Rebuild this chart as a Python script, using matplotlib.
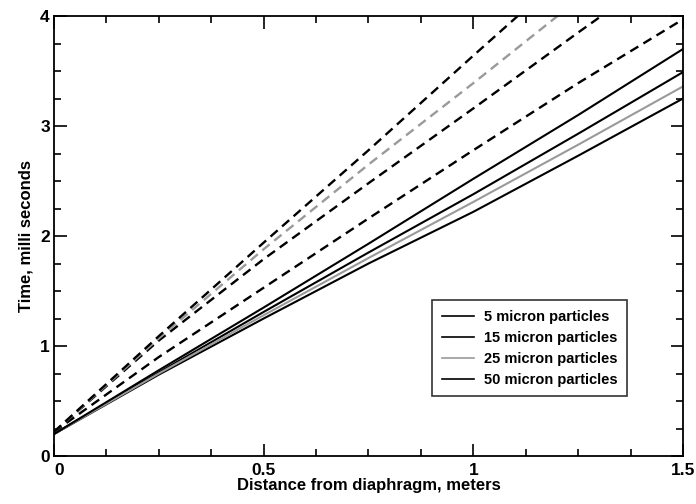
import numpy as np
import matplotlib.pyplot as plt
from matplotlib.ticker import MultipleLocator

plt.rcParams['font.family'] = ['Liberation Sans', 'DejaVu Sans']
plt.rcParams['font.weight'] = 'bold'

# distance from diaphragm (m)
x_m = [0.0, 0.25, 0.5, 0.75, 1.0, 1.25, 1.5]

# particle arrival time (ms), solid curves
t_5 = [0.20, 0.74, 1.25, 1.75, 2.22, 2.73, 3.25]
t_15 = [0.20, 0.76, 1.31, 1.85, 2.38, 2.93, 3.49]
t_25 = [0.20, 0.75, 1.28, 1.80, 2.31, 2.83, 3.36]
t_50 = [0.20, 0.78, 1.35, 1.93, 2.52, 3.10, 3.70]

# dashed curves (second case)
td_5 = [0.22, 0.90, 1.53, 2.16, 2.78, 3.39, 3.97]
td_15 = [0.22, 1.05, 1.79, 2.48, 3.16, 3.85, 4.53]
td_25 = [0.22, 1.07, 1.88, 2.65, 3.39, 4.15, 4.90]
td_50 = [0.22, 1.09, 1.94, 2.78, 3.64, 4.49, 5.33]

xticks = [0, 0.5, 1, 1.5]
xtick_labels = ['0', '0.5', '1', '1.5']
yticks = [0, 1, 2, 3, 4]
ytick_labels = ['0', '1', '2', '3', '4']

labels = ['5 micron particles', '15 micron particles',
          '25 micron particles', '50 micron particles']
colors = ['black', 'black', '#9a9a9a', 'black']

fig = plt.figure(figsize=(6.96, 5.04), dpi=100)
ax = fig.add_axes([0.0776, 0.0952, 0.9037, 0.873])

dash = (0, (4, 2.5))
for t, c in zip([td_5, td_15, td_25, td_50], colors):
    ax.plot(x_m, t, color=c, lw=1.7, linestyle=dash)

for t, c, lab in zip([t_5, t_15, t_25, t_50], colors, labels):
    ax.plot(x_m, t, color=c, lw=1.5, label=lab)

ax.set_xlim(0, 1.5)
ax.set_ylim(0, 4)
ax.set_xticks(xticks)
ax.set_xticklabels(xtick_labels)
ax.set_yticks(yticks)
ax.set_yticklabels(ytick_labels)
ax.xaxis.set_minor_locator(MultipleLocator(0.125))
ax.yaxis.set_minor_locator(MultipleLocator(0.25))
ax.tick_params(which='both', direction='in', top=True, right=True,
               labelsize=12.5, width=1.2, pad=3)
ax.tick_params(which='major', length=9)
ax.tick_params(which='minor', length=5)
ax.tick_params(axis='x', pad=5)
for s in ax.spines.values():
    s.set_linewidth(1.3)

# nudge the two origin labels apart
ax.get_xticklabels()[0].set_horizontalalignment('left')

ax.set_xlabel('Distance from diaphragm, meters', fontsize=12,
              fontweight='bold', labelpad=0)
ax.set_ylabel('Time, milli seconds', fontsize=12, fontweight='bold',
              labelpad=5)

leg = ax.legend(loc='lower right', bbox_to_anchor=(0.923, 0.119),
                prop={'size': 10.5, 'weight': 'bold'}, frameon=True,
                fancybox=False, handlelength=2.2, handletextpad=0.7,
                borderpad=0.65, labelspacing=0.48)
leg.get_frame().set_edgecolor('black')
leg.get_frame().set_linewidth(1.2)
for line in leg.get_lines():
    line.set_linewidth(1.2)

fig.savefig('out.png', dpi=100)
